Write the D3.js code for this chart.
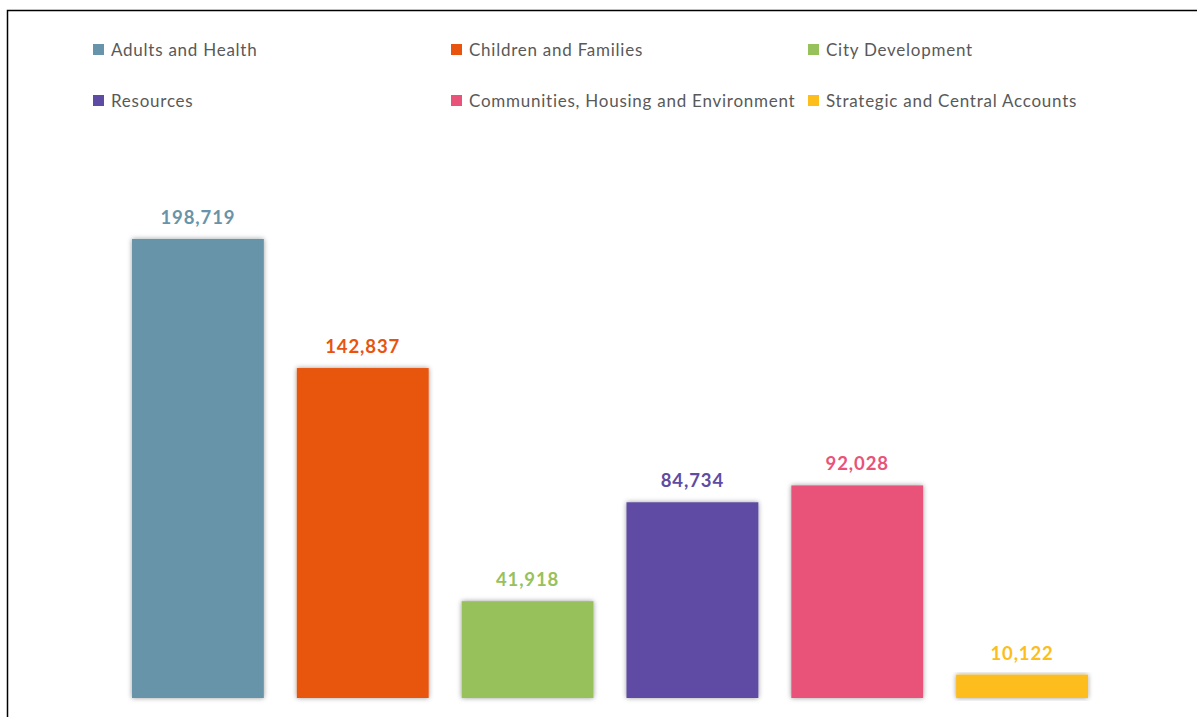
<!DOCTYPE html>
<html>
<head>
<meta charset="utf-8">
<script src="https://cdn.jsdelivr.net/npm/d3@7"></script>
<style>
  body { margin: 0; background: #fff; }
  #chart text { font-family: Lato, "Open Sans", sans-serif; }
</style>
</head>
<body>
<div id="chart"></div>
<script>
// directorate budgets (£000)
const categories = [
  "Adults and Health",
  "Children and Families",
  "City Development",
  "Resources",
  "Communities, Housing and Environment",
  "Strategic and Central Accounts"
];
const values = [198719, 142837, 41918, 84734, 92028, 10122];
const colors = ["#6794AA", "#E8540E", "#97C15A", "#5E4BA3", "#E9537A", "#FDBD1B"];

// legend is laid out in 3 columns x 2 rows
const legendCols = [93, 451, 808];
const legendRows = [49, 100];

const W = 1197, H = 717;
const svg = d3.select("#chart").append("svg")
  .attr("width", W)
  .attr("height", H);

// soft shadow like the office chart
const defs = svg.append("defs");
const f = defs.append("filter").attr("id", "shadow")
  .attr("x", "-10%").attr("y", "-10%").attr("width", "120%").attr("height", "120%");
f.append("feDropShadow")
  .attr("dx", 0).attr("dy", 0)
  .attr("stdDeviation", 2.5)
  .attr("flood-color", "#000")
  .attr("flood-opacity", 0.4);

// outer border
svg.append("rect")
  .attr("x", 7.5).attr("y", 10.5)
  .attr("width", 1200).attr("height", 720)
  .attr("fill", "none")
  .attr("stroke", "#000")
  .attr("stroke-width", 1.5);

const x = d3.scaleBand()
  .domain(categories)
  .range([115.5, 1104.5])
  .paddingInner(0.2)
  .paddingOuter(0.1);

const baseY = 698;
const y = d3.scaleLinear()
  .domain([0, 250000])
  .range([baseY, baseY - 577.5]);

const g = svg.append("g");

g.selectAll(".bar")
  .data(categories)
  .enter().append("rect")
  .attr("class", "bar")
  .attr("x", d => x(d))
  .attr("y", (d, i) => y(values[i]))
  .attr("width", x.bandwidth())
  .attr("height", (d, i) => baseY - y(values[i]))
  .attr("fill", (d, i) => colors[i])
  .attr("filter", "url(#shadow)");

g.selectAll(".barValue")
  .data(categories)
  .enter().append("text")
  .attr("class", "barValue")
  .attr("x", d => x(d) + x.bandwidth() / 2)
  .attr("y", (d, i) => y(values[i]) - 15)
  .attr("text-anchor", "middle")
  .style("font-size", "18.5px")
  .style("font-weight", "700")
  .style("letter-spacing", "0.9px")
  .style("fill", (d, i) => colors[i])
  .text((d, i) => d3.format(",")(values[i]));

// legend
const leg = svg.append("g").attr("class", "legend");
categories.forEach((c, i) => {
  const lx = legendCols[i % 3];
  const ly = legendRows[Math.floor(i / 3)];
  leg.append("rect")
    .attr("x", lx).attr("y", ly - 5)
    .attr("width", 11).attr("height", 11)
    .attr("fill", colors[i]);
  leg.append("text")
    .attr("x", lx + 18).attr("y", ly + 6.5)
    .style("font-size", "17px")
    .style("letter-spacing", "0.75px")
    .style("fill", "#595959")
    .text(c);
});
</script>
</body>
</html>
